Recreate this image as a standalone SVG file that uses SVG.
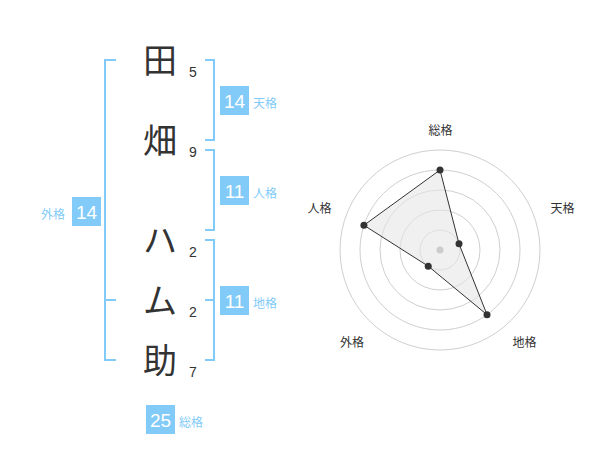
<svg xmlns="http://www.w3.org/2000/svg" width="600" height="470" viewBox="0 0 600 470">
<style>
.ch{font-family:"Noto Sans CJK JP","Noto Sans CJK SC",sans-serif;font-size:34px;fill:#333;text-anchor:middle}
.num{font-family:"Liberation Sans",Arial,sans-serif;font-size:14px;fill:#333;text-anchor:middle}
.br{fill:none;stroke:#82cbf8;stroke-width:2}
.box{fill:#82cbf8}
.bt{font-family:"Liberation Sans",Arial,sans-serif;font-size:19px;fill:#fff;text-anchor:middle}
.lb{font-family:"Noto Sans CJK JP","Noto Sans CJK SC",sans-serif;font-size:12px;fill:#82cbf8}
.rl{font-family:"Noto Sans CJK JP","Noto Sans CJK SC",sans-serif;font-size:12px;fill:#333;text-anchor:middle}
.ring{fill:none;stroke:#cfcfcf;stroke-width:1}
.pt{fill:#333}
</style>
<rect width="600" height="470" fill="#fff"/>
<g id="chars">
<g id="c1"><text class="ch" x="160" y="73">田</text><text class="num" x="193" y="77">5</text></g>
<g id="c2"><text class="ch" x="160" y="153">畑</text><text class="num" x="193" y="157">9</text></g>
<g id="c3"><text class="ch" x="160" y="253">ハ</text><text class="num" x="193" y="257">2</text></g>
<g id="c4"><text class="ch" x="160" y="313">ム</text><text class="num" x="193" y="317">2</text></g>
<g id="c5"><text class="ch" x="160" y="373">助</text><text class="num" x="193" y="377">7</text></g>
</g>
<g id="connectors">
<path class="br" d="M116,60 H105 V360 H116 M105,300 H116"/>
<path class="br" d="M205,60 H214 V140 H205"/>
<path class="br" d="M205,150 H214 V230 H205"/>
<path class="br" d="M205,240 H214 V360 H205 M205,300 H214"/>
</g>
<g id="tenkaku"><rect class="box" x="220" y="86" width="29" height="29"/><text class="bt" x="234.5" y="107.5">14</text><text class="lb" x="253" y="108">天格</text></g>
<g id="jinkaku"><rect class="box" x="220" y="176" width="29" height="29"/><text class="bt" x="234.5" y="197.5">11</text><text class="lb" x="253" y="198">人格</text></g>
<g id="chikaku"><rect class="box" x="220" y="286" width="29" height="29"/><text class="bt" x="234.5" y="307.5">11</text><text class="lb" x="253" y="308">地格</text></g>
<g id="gaikaku"><rect class="box" x="72" y="197" width="29" height="29"/><text class="bt" x="86.5" y="218.5">14</text><text class="lb" x="41" y="219">外格</text></g>
<g id="soukaku"><rect class="box" x="146" y="405" width="29" height="29"/><text class="bt" x="160.5" y="426.5">25</text><text class="lb" x="179" y="427">総格</text></g>
<g id="radar">
<circle class="ring" cx="440" cy="250" r="20"/>
<circle class="ring" cx="440" cy="250" r="40"/>
<circle class="ring" cx="440" cy="250" r="60"/>
<circle class="ring" cx="440" cy="250" r="80"/>
<circle class="ring" cx="440" cy="250" r="100"/>
<polygon points="440,170 459.02,243.82 487.02,314.72 428.24,266.18 363.92,225.28" fill="#e6e6e6" fill-opacity="0.6" stroke="#333" stroke-width="1"/>
<circle cx="440" cy="250" r="3.5" fill="#ccc"/>
<circle class="pt" cx="440" cy="170" r="3.5"/>
<circle class="pt" cx="459.02" cy="243.82" r="3.5"/>
<circle class="pt" cx="487.02" cy="314.72" r="3.5"/>
<circle class="pt" cx="428.24" cy="266.18" r="3.5"/>
<circle class="pt" cx="363.92" cy="225.28" r="3.5"/>
<text class="rl" x="440.5" y="135">総格</text>
<text class="rl" x="562.5" y="212.5">天格</text>
<text class="rl" x="319.5" y="212.5">人格</text>
<text class="rl" x="352" y="346.5">外格</text>
<text class="rl" x="524.5" y="346.5">地格</text>
</g>
</svg>
